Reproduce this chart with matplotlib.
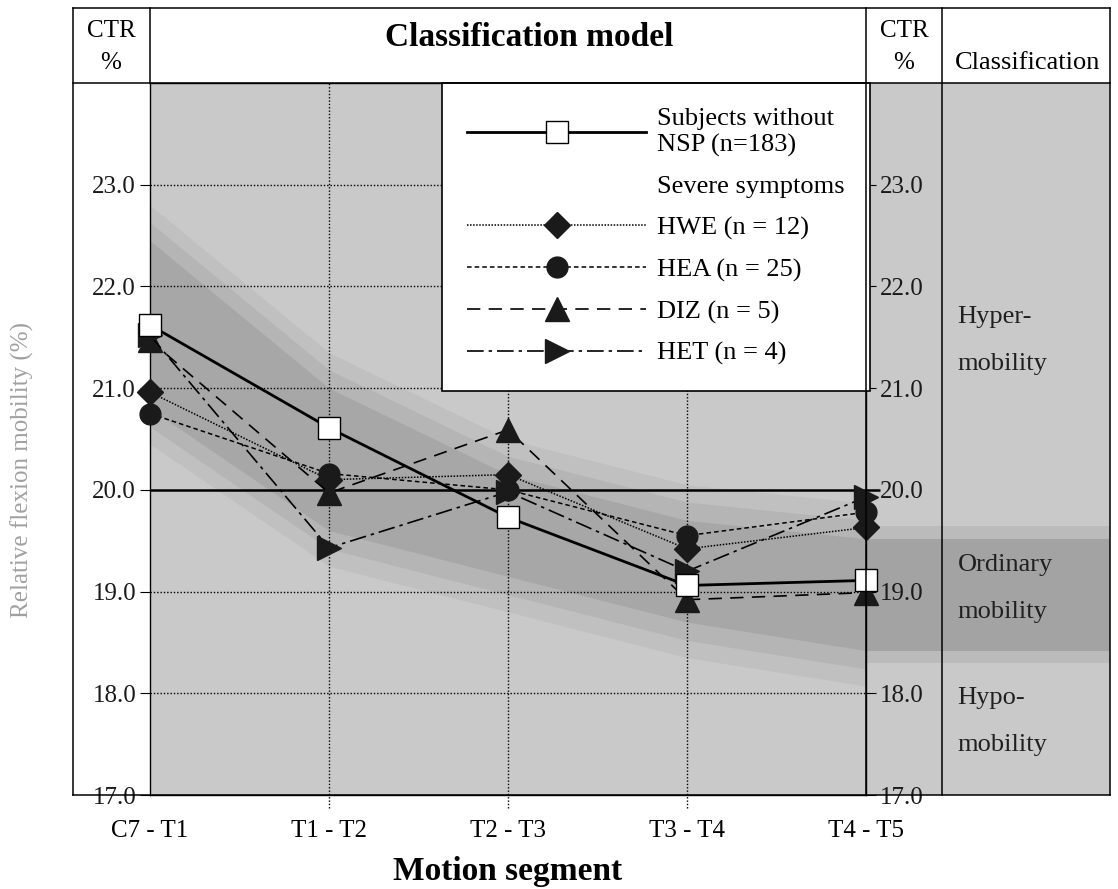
import matplotlib
matplotlib.use("Agg")
import matplotlib.pyplot as plt
from matplotlib.lines import Line2D

plt.rcParams['font.family'] = 'Liberation Serif'

segments = ['C7 - T1', 'T1 - T2', 'T2 - T3', 'T3 - T4', 'T4 - T5']
nsp = [21.62, 20.61, 19.73, 19.06, 19.11]
hwe = [20.96, 20.10, 20.15, 19.42, 19.63]
hea = [20.75, 20.16, 20.00, 19.55, 19.78]
diz = [21.47, 19.97, 20.59, 18.92, 18.99]
het = [21.52, 19.43, 19.98, 19.20, 19.93]

# ordinary mobility band (shaded region) along the segments
band_upper = [22.45, 21.00, 20.15, 19.70, 19.52]
band_lower = [20.80, 19.60, 19.15, 18.70, 18.42]

yticks = [17.0, 18.0, 19.0, 20.0, 21.0, 22.0, 23.0]
class_labels = ['Hyper-\nmobility', 'Ordinary\nmobility', 'Hypo-\nmobility']
class_pos = [21.47, 19.03, 17.72]

W, H = 1118, 889
fig = plt.figure(figsize=(W / 100, H / 100), dpi=100)


def fx(px):
    return px / W


def fy(py):
    return 1 - py / H


bg = '#c9c9c9'
band_col = '#9c9c9c'

ax = fig.add_axes([fx(150), fy(795), fx(866) - fx(150), fy(83) - fy(795)])
axc = fig.add_axes([fx(866), fy(795), fx(1110) - fx(866), fy(83) - fy(795)])
ax.set_zorder(2)
axc.set_zorder(1)

x = list(range(len(segments)))

# background + band
ax.set_facecolor(bg)
for grow, a in [(0.35, 0.18), (0.18, 0.3), (0.0, 0.55)]:
    ax.fill_between(x, [u + grow for u in band_upper], [l - grow for l in band_lower],
                    color=band_col, alpha=a, linewidth=0, zorder=0.5)

axc.set_facecolor(bg)
for grow, a in [(0.12, 0.3), (0.0, 0.75)]:
    axc.axhspan(band_lower[-1] - grow, band_upper[-1] + grow, color=band_col, alpha=a,
                linewidth=0)
axc.set_xlim(0, 1)
axc.set_ylim(17, 24)
axc.set_xticks([])
axc.set_yticks([])
for s in axc.spines.values():
    s.set_visible(False)
for lab, yp in zip(class_labels, class_pos):
    axc.text(0.375, yp, lab, fontsize=19, ha='left', va='center', linespacing=2.45,
             color='#202020')

# grid
dot = (0, (1, 1.4))
ax.hlines([18, 19, 21, 22, 23], 0, 4, colors='black', linestyles=[dot], linewidth=1.0, zorder=1)
ax.hlines(20, 0, 4.08, colors='black', linewidth=1.8, zorder=1, clip_on=False)
ax.vlines([1, 2, 3], 16.87, 24, colors='black', linestyles=[dot], linewidth=1.0, zorder=1,
          clip_on=False)

ms = 15
h_hwe, = ax.plot(x, hwe, color='black', lw=1.1, linestyle=(0, (1, 1)), marker='D',
                 markersize=ms - 2, markerfacecolor='#1a1a1a', markeredgecolor='#1a1a1a',
                 zorder=3, clip_on=False, label='HWE (n = 12)')
h_hea, = ax.plot(x, hea, color='black', lw=1.1, linestyle=(0, (3, 2)), marker='o',
                 markersize=ms, markerfacecolor='#1a1a1a', markeredgecolor='#1a1a1a',
                 zorder=3, clip_on=False, label='HEA (n = 25)')
h_diz, = ax.plot(x, diz, color='black', lw=1.2, linestyle=(0, (8, 5)), marker='^',
                 markersize=ms + 2, markerfacecolor='#1a1a1a', markeredgecolor='#1a1a1a',
                 zorder=3, clip_on=False, label='DIZ (n = 5)')
h_het, = ax.plot(x, het, color='black', lw=1.2, linestyle=(0, (10, 3, 2, 3)), marker='>',
                 markersize=ms + 2, markerfacecolor='#1a1a1a', markeredgecolor='#1a1a1a',
                 zorder=3, clip_on=False, label='HET (n = 4)')
h_nsp, = ax.plot(x, nsp, color='black', lw=2.0, marker='s', markersize=ms + 1,
                 markerfacecolor='white', markeredgecolor='black', markeredgewidth=1.0,
                 zorder=4, clip_on=False, label='Subjects without\nNSP (n=183)')
blank = Line2D([], [], color='none', linestyle='none')

leg = ax.legend([h_nsp, blank, h_hwe, h_hea, h_diz, h_het],
                [h_nsp.get_label(), 'Severe symptoms', h_hwe.get_label(),
                 h_hea.get_label(), h_diz.get_label(), h_het.get_label()],
                loc='upper right', bbox_to_anchor=(1.005, 1.0), borderaxespad=0,
                fontsize=19, handlelength=6.8, handletextpad=0.4, borderpad=0.95,
                labelspacing=0.68, fancybox=False, framealpha=1, edgecolor='black')
leg.get_frame().set_linewidth(1.2)
leg.set_zorder(10)

ax.set_xlim(0, 4)
ax.set_ylim(17, 24)
ax.set_xticks(x, segments, fontsize=18)
ax.tick_params(axis='x', length=0, pad=18)
ax.set_yticks(yticks, [f'{v:.1f}' for v in yticks], fontsize=18)
ax.tick_params(axis='y', left=True, right=True, labelleft=True, labelright=True,
               length=7, width=0.8, direction='out', pad=3)
for lab in ax.get_yticklabels(which='both'):
    lab.set_color('#1a1a1a')
for s in ax.spines.values():
    s.set_linewidth(1.0)
ax.set_xlabel('Motion segment', fontsize=24, fontweight='bold', labelpad=10)

# table frame
frame = [
    ([73, 1110], [8, 8]),
    ([73, 1110], [83, 83]),
    ([73, 1110], [795, 795]),
    ([73, 73], [8, 795]),
    ([150, 150], [8, 83]),
    ([866, 866], [8, 795]),
    ([942, 942], [8, 795]),
    ([1110, 1110], [8, 795]),
]
for xs, ys in frame:
    fig.add_artist(Line2D([fx(v) for v in xs], [fy(v) for v in ys], color='black',
                          linewidth=1.1, transform=fig.transFigure, zorder=20))

fig.text(fx(111), fy(47), 'CTR\n%', fontsize=18, ha='center', va='center', linespacing=1.55)
fig.text(fx(904), fy(47), 'CTR\n%', fontsize=18, ha='center', va='center', linespacing=1.55)
fig.text(fx(529), fy(37), 'Classification model', fontsize=24, fontweight='bold',
         ha='center', va='center')
fig.text(fx(1028), fy(63), 'Classification', fontsize=19, ha='center', va='center')
fig.text(fx(22), fy(470), 'Relative flexion mobility (%)', fontsize=18, rotation=90,
         ha='center', va='center', color='#a0a0a0')

fig.savefig('out.png', dpi=100)
